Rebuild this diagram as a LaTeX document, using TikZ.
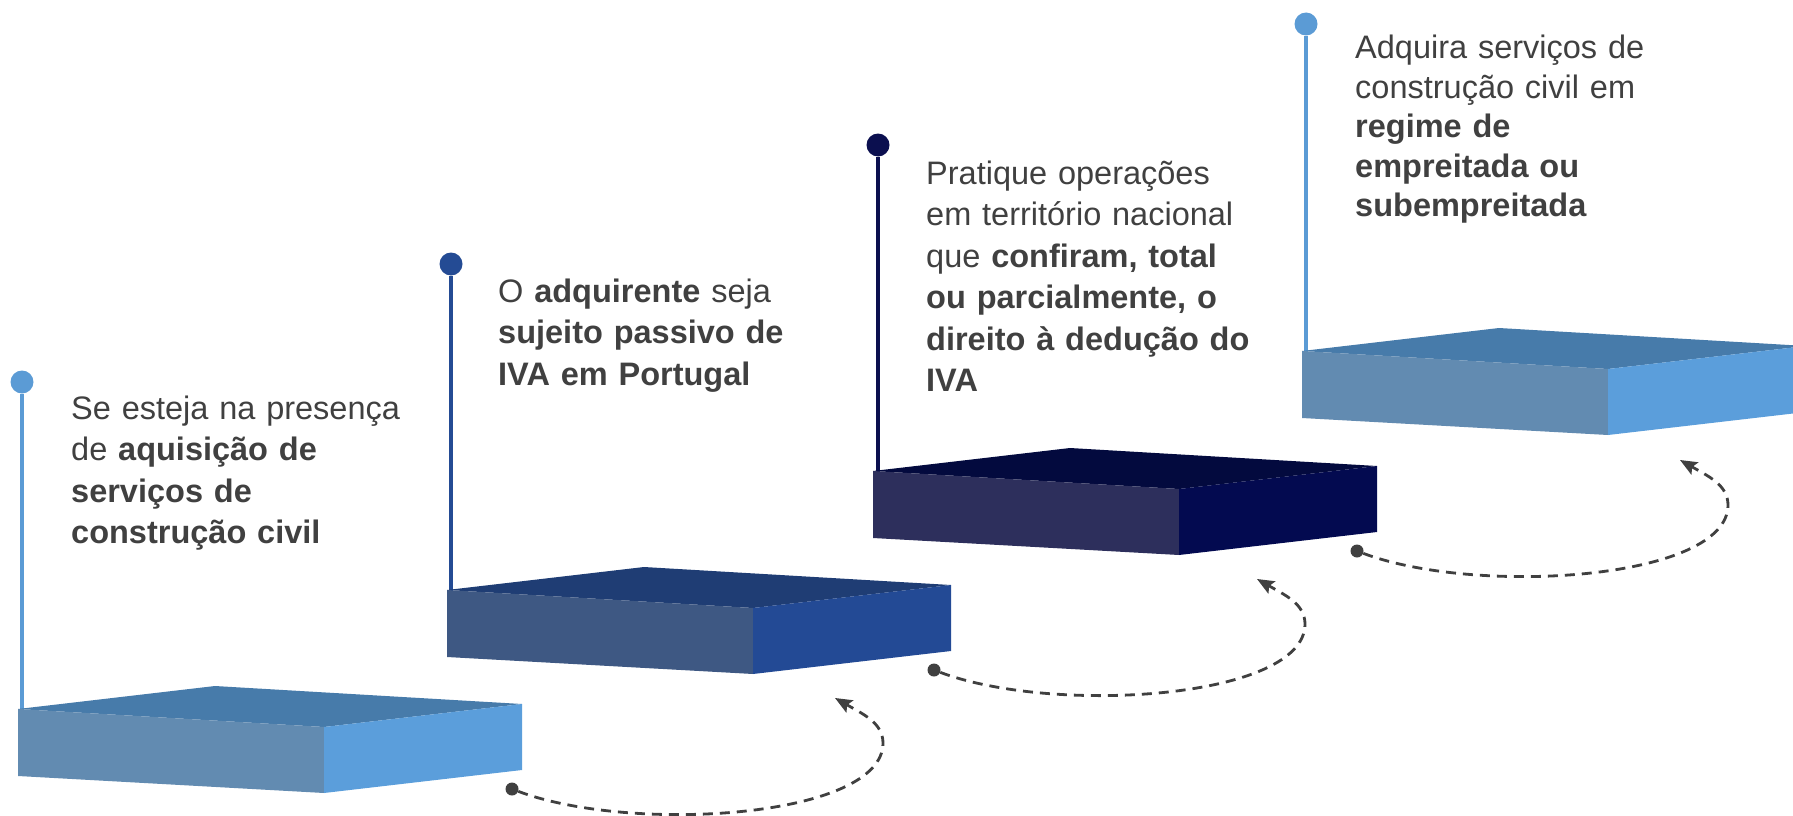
\documentclass[tikz,border=0pt]{standalone}
\usepackage{fontspec}
\setmainfont{Liberation Sans}
\usetikzlibrary{arrows.meta}

% Farben
\definecolor{textgrau}{HTML}{404040}
\definecolor{hellO}{HTML}{477BAA}
\definecolor{hellL}{HTML}{628BB1}
\definecolor{hellR}{HTML}{5B9EDB}
\definecolor{hellP}{HTML}{5B9BD5}
\definecolor{mittelO}{HTML}{1F3D74}
\definecolor{mittelL}{HTML}{3E5883}
\definecolor{mittelR}{HTML}{234A95}
\definecolor{mittelP}{HTML}{244B94}
\definecolor{dunkelO}{HTML}{030A3E}
\definecolor{dunkelL}{HTML}{2D2F5C}
\definecolor{dunkelR}{HTML}{030A50}
\definecolor{dunkelP}{HTML}{0B0F4F}

\begin{document}
\begin{tikzpicture}[x=1pt,y=-1pt,
		kopf/.style={circle,inner sep=0pt,minimum size=23pt},
		stange/.style={line width=4pt},
		punkt/.style={circle,fill=textgrau,inner sep=0pt,minimum size=13pt},
		pfeil/.style={textgrau,line width=2.8pt,dash pattern=on 10pt off 7pt,
			-{Stealth[length=17pt,width=14pt,inset=3pt]}},
		beschreibung/.style={anchor=base west,text=textgrau,align=left,
			text width=420pt,inner sep=0pt,font=\fontsize{32.5pt}{41.5pt}\selectfont}]
			\clip (0,0) rectangle (1793,816);

			% Stangen mit Kopf
			\foreach \i/\x/\y/\yt/\farbe in {1/22/382/711/hellP, 2/451/264/592/mittelP,
				3/878/145/473/dunkelP, 4/1306/24/353/hellP} {
				\node[kopf,fill=\farbe] (k\i) at (\x,\y) {};
				\coordinate (f\i) at (\x,\yt);
				\draw[stange,\farbe] (k\i) -- (f\i);
			}

			% Stufen (Oberseite, Vorderseite links, Vorderseite rechts)
			\foreach \x/\y/\ob/\li/\re in {18/709/hellO/hellL/hellR, 447/590/mittelO/mittelL/mittelR,
				873/471/dunkelO/dunkelL/dunkelR, 1302/351/hellO/hellL/hellR} {
				\fill[\ob] (\x,\y) -- ++(197,-23) -- ++(307,18) -- ++(-198,23) -- cycle;
				\fill[\li] (\x,\y) -- ++(306,18) -- ++(0,66) -- ++(-306,-17) -- cycle;
				\fill[\re] (\x+306,\y+18) -- ++(198,-23) -- ++(0,66) -- ++(-198,23) -- cycle;
			}

			% Texte
			\node[beschreibung] (t1) at (71,419) {Se esteja na presença\\
				de \textbf{aquisição de}\\ \textbf{serviços de}\\ \textbf{construção civil}};
			\node[beschreibung] (t2) at (498,302) {O \textbf{adquirente} seja\\
				\textbf{sujeito passivo de}\\ \textbf{IVA em Portugal}};
			\node[beschreibung] (t3) at (926,184) {Pratique operações\\
				em território nacional\\ que \textbf{confiram, total}\\
				\textbf{ou parcialmente, o}\\ \textbf{direito à dedução do}\\ \textbf{IVA}};
			\node[beschreibung,font=\fontsize{32.5pt}{39.5pt}\selectfont] (t4) at (1355,59)
				{Adquira serviços de\\ construção civil em\\ \textbf{regime de}\\
				\textbf{empreitada ou}\\ \textbf{subempreitada}};

			% gestrichelte Pfeile zwischen den Stufen
			\foreach \i/\dx/\dy in {1/0/0, 2/422/119, 3/845/238} {
				\node[punkt] (s\i) at (512+\dx,789-\dy) {};
				\coordinate (r\i) at (883+\dx,743-\dy);
				\coordinate (e\i) at (835+\dx,698-\dy);
				\draw[pfeil] (s\i) .. controls +(120,45) and +(0,75) .. (r\i)
					.. controls +(0,-20) and +(28,16) .. (e\i);
			}
		\end{tikzpicture}
\end{document}
